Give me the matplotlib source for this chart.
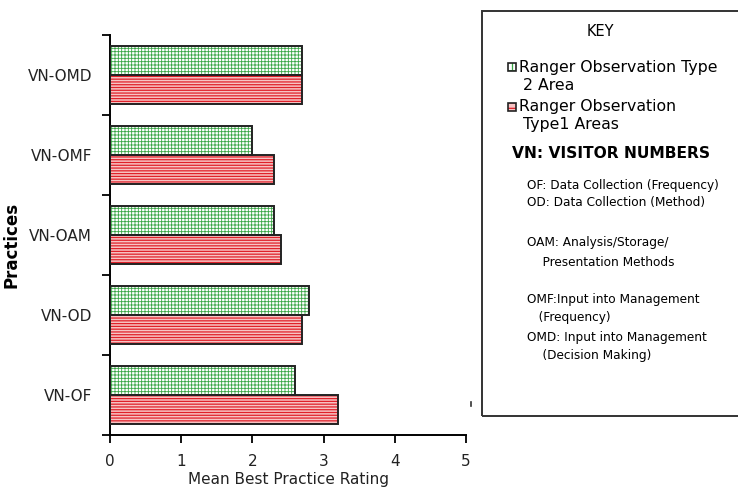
import numpy as np
import matplotlib.pyplot as plt
from matplotlib.patches import Rectangle
from matplotlib.lines import Line2D

plt.rcParams['font.family'] = ['DejaVu Sans']
plt.rcParams['hatch.linewidth'] = 0.9

# mean best practice ratings, bottom to top
practices = ['VN-OF', 'VN-OD', 'VN-OAM', 'VN-OMF', 'VN-OMD']
type2_area = [2.6, 2.8, 2.3, 2.0, 2.7]
type1_areas = [3.2, 2.7, 2.4, 2.3, 2.7]

key_series = ['Ranger Observation Type\n2 Area', 'Ranger Observation\nType1 Areas']
key_title = 'VN: VISITOR NUMBERS'
key_notes = [
    'OF: Data Collection (Frequency)',
    'OD: Data Collection (Method)',
    'OAM: Analysis/Storage/',
    '    Presentation Methods',
    'OMF:Input into Management',
    '   (Frequency)',
    'OMD: Input into Management',
    '    (Decision Making)',
]

W, H = 738, 488
fig = plt.figure(figsize=(W / 100, H / 100), dpi=100)
ax = fig.add_axes([110 / W, 1 - 435 / H, 356 / W, 400 / H])

green, red = '#3aa646', '#e0202a'
bar_h = 0.36
y = np.arange(len(practices))

def hatched_barh(ypos, vals, face, hatch_col, hatch, hatch_lw):
    # hatch width is picked up when the patches are made
    plt.rcParams['hatch.linewidth'] = hatch_lw
    ax.barh(ypos, vals, height=bar_h, facecolor=face, edgecolor=hatch_col,
            hatch=hatch, linewidth=0, zorder=2)
    ax.barh(ypos, vals, height=bar_h, fill=False, edgecolor='#222222',
            linewidth=1.4, zorder=3)

hatched_barh(y + bar_h / 2, type2_area, 'white', green, '+' * 5, 0.6)
hatched_barh(y - bar_h / 2, type1_areas, '#f7c4c4', red, '-' * 6, 0.9)

ax.set_xlim(0, 5)
ax.set_ylim(-0.5, len(practices) - 0.5)
ax.set_xticks(range(6))
ax.set_yticks(y)
ax.set_yticklabels(practices)
ax.set_yticks(np.arange(-0.5, len(practices)), minor=True)
ax.tick_params(axis='y', which='major', length=0, pad=13, labelsize=11, colors='#222222')
ax.tick_params(axis='y', which='minor', length=6, width=1.3, direction='out')
ax.tick_params(axis='x', length=6, width=1.3, pad=8, labelsize=11, labelcolor='#222222')
for s in ['top', 'right']:
    ax.spines[s].set_visible(False)
for s in ['left', 'bottom']:
    ax.spines[s].set_linewidth(1.4)
ax.set_xlabel('Mean Best Practice Rating', fontsize=11, labelpad=2, color='#222222')
ax.set_ylabel('Practices', fontsize=12, fontweight='bold')
ax.yaxis.set_label_coords(-(110 - 21) / 356, (435 - 245) / 400)

# key box on the right
def fx(px):
    return px / W

def fy(py):
    return 1 - py / H

fig.patches.append(Rectangle((fx(482), fy(416)), fx(300), (416 - 11) / H,
                             transform=fig.transFigure, fill=False,
                             edgecolor='#333333', linewidth=1.4))
fig.text(fx(600), fy(32), 'KEY', ha='center', va='center', fontsize=10.5)

plt.rcParams['hatch.linewidth'] = 0.9
swatches = [('white', green, '++'), ('#f7c4c4', red, '---')]
for i, (label, (face, col, hatch)) in enumerate(zip(key_series, swatches)):
    top = 67 + i * 40
    fig.patches.append(Rectangle((fx(508), fy(top + 4)), fx(8), 8 / H,
                                 transform=fig.transFigure, facecolor=face,
                                 edgecolor=col, hatch=hatch, linewidth=0))
    fig.patches.append(Rectangle((fx(508), fy(top + 4)), fx(8), 8 / H,
                                 transform=fig.transFigure, fill=False,
                                 edgecolor='#222222', linewidth=1.2))
    first, second = label.split('\n')
    fig.text(fx(519), fy(top), first, va='center', fontsize=11.3)
    fig.text(fx(523), fy(top + 18), second, va='center', fontsize=11.3)

fig.text(fx(512), fy(153), key_title, va='center', fontsize=11.2, fontweight='bold')

note_rows = [185, 203, 242, 263, 300, 318, 337, 355]
for row, note in zip(note_rows, key_notes):
    fig.text(fx(527), fy(row), note, va='center', fontsize=8.7)

fig.lines.append(Line2D([fx(471.5), fx(471.5)], [fy(402), fy(406)],
                        transform=fig.transFigure, color='#333333', linewidth=1.2))

fig.savefig('out.png', dpi=100)
